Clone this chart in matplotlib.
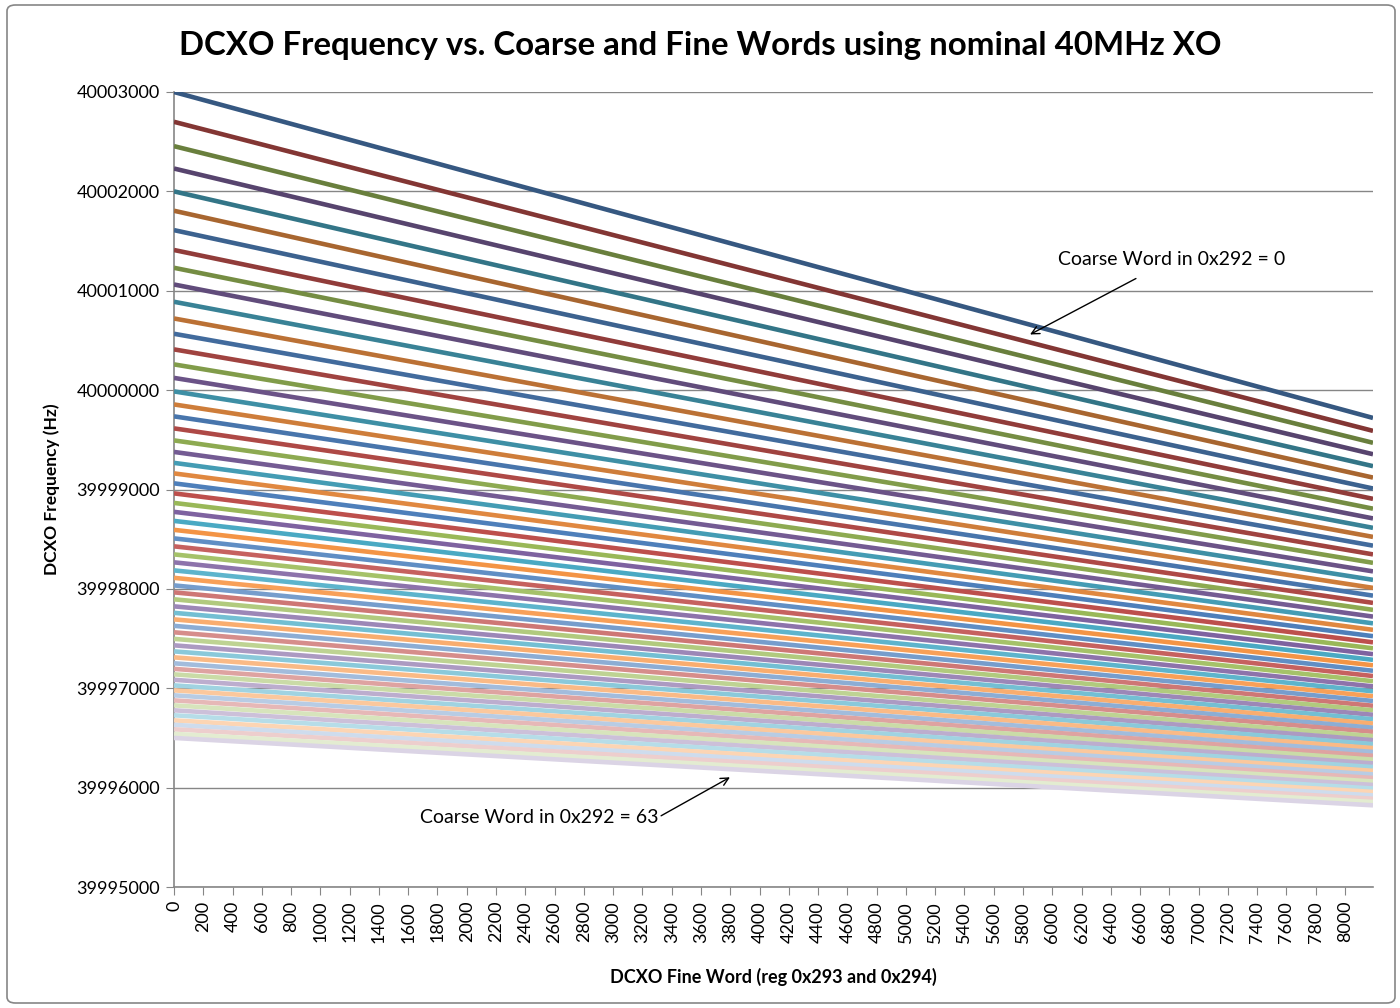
import matplotlib
matplotlib.use('Agg')
import matplotlib.pyplot as plt
import matplotlib.colors as mcolors
from matplotlib.patches import FancyBboxPatch

# fine word range (reg 0x293/0x294)
FINE = [0, 8191]

# frequency at fine=0, one entry per coarse word 0..63 (Hz)
START_HZ = [
    40003000, 40002700, 40002455, 40002230, 40002000, 40001805,
    40001610, 40001410, 40001231, 40001063, 40000889, 40000721,
    40000567, 40000410, 40000259, 40000123, 39999987, 39999856,
    39999736, 39999615, 39999494, 39999378, 39999268, 39999162,
    39999062, 39998961, 39998865, 39998775, 39998684, 39998594,
    39998508, 39998428, 39998347, 39998267, 39998186, 39998111,
    39998035, 39997965, 39997895, 39997824, 39997759, 39997693,
    39997628, 39997563, 39997497, 39997432, 39997371, 39997311,
    39997251, 39997195, 39997140, 39997085, 39997029, 39996979,
    39996929, 39996878, 39996828, 39996778, 39996728, 39996677,
    39996632, 39996587, 39996541, 39996500,
]

# frequency at fine=8191, same order (Hz)
END_HZ = [
    39999720, 39999590, 39999470, 39999355, 39999235, 39999120,
    39999010, 39998906, 39998807, 39998709, 39998614, 39998523,
    39998435, 39998347, 39998262, 39998176, 39998091, 39998010,
    39997932, 39997859, 39997789, 39997721, 39997653, 39997588,
    39997524, 39997462, 39997402, 39997343, 39997286, 39997231,
    39997176, 39997123, 39997071, 39997019, 39996969, 39996920,
    39996872, 39996824, 39996778, 39996733, 39996688, 39996645,
    39996603, 39996562, 39996518, 39996478, 39996438, 39996398,
    39996359, 39996320, 39996282, 39996244, 39996207, 39996169,
    39996133, 39996097, 39996062, 39996027, 39995991, 39995957,
    39995922, 39995888, 39995855, 39995822,
]

Y_TICKS = [39995000, 39996000, 39997000, 39998000, 39999000,
           40000000, 40001000, 40002000, 40003000]
X_TICKS = list(range(0, 8001, 200))

ACCENTS = ['#4F81BD', '#C0504D', '#9BBB59', '#8064A2', '#4BACC6', '#F79646']
FONT = ['Lato', 'DejaVu Sans']


def series_color(i, n):
    # excel-style spread: darker shades first, lighter tints last
    base = mcolors.to_rgb(ACCENTS[i % 6])
    g = i // 6
    ng = (n - 1) // 6
    mid = ng * 0.42
    if g <= mid:
        k = 0.32 * (mid - g) / mid
        return tuple(c * (1 - k) for c in base)
    k = 0.72 * (g - mid) / (ng - mid)
    return tuple(c + (1 - c) * k for c in base)


plt.rcParams['font.family'] = FONT

fig = plt.figure(figsize=(14, 10.08), dpi=100)
ax = fig.add_axes([174 / 1400, 1 - 887 / 1008, 1199 / 1400, 795 / 1008])

n = len(START_HZ)
for i in range(n):
    ax.plot(FINE, [START_HZ[i], END_HZ[i]], color=series_color(i, n),
            linewidth=3.3, solid_capstyle='butt', zorder=3)

ax.set_xlim(0, 8191)
ax.set_ylim(39995000, 40003000)
ax.set_yticks(Y_TICKS)
ax.set_yticklabels([str(v) for v in Y_TICKS], fontsize=13)
ax.set_xticks(X_TICKS)
ax.set_xticklabels([str(v) for v in X_TICKS], rotation=90, fontsize=13)
ax.tick_params(axis='both', direction='out', length=6, color='#868686',
               pad=4)
ax.grid(axis='y', color='#868686', linewidth=1.0, zorder=1)
for sp in ['top', 'right']:
    ax.spines[sp].set_visible(False)
for sp in ['left', 'bottom']:
    ax.spines[sp].set_color('#868686')
    ax.spines[sp].set_linewidth(1.2)

ax.set_ylabel('DCXO Frequency (Hz)', fontsize=12.5, fontweight='bold',
              labelpad=12)
ax.set_xlabel('DCXO Fine Word (reg 0x293 and 0x294)', fontsize=13,
              fontweight='bold', labelpad=18)
fig.text(0.5, 1 - 45 / 1008, 'DCXO Frequency vs. Coarse and Fine Words using nominal 40MHz XO',
         ha='center', va='center', fontsize=23.8, fontweight='bold')

ax.annotate('Coarse Word in 0x292 = 0', xy=(5848, 40000560),
            xytext=(6818, 40001315), ha='center', va='center', fontsize=14,
            arrowprops=dict(arrowstyle='->', color='black', lw=1.0,
                            shrinkA=12, shrinkB=0))
ax.annotate('Coarse Word in 0x292 = 63', xy=(3798, 39996104),
            xytext=(2494, 39995701), ha='center', va='center', fontsize=14,
            arrowprops=dict(arrowstyle='->', color='black', lw=1.0,
                            shrinkA=0, shrinkB=0,
                            relpos=(1.0, 0.5)))

border = FancyBboxPatch((7 / 1400, 5 / 1008), 1388 / 1400, 998 / 1008,
                        boxstyle='round,pad=0,rounding_size=0.006',
                        transform=fig.transFigure, fill=False,
                        edgecolor='#868686', linewidth=1.2)
fig.patches.append(border)

fig.savefig('out.png', dpi=100)
